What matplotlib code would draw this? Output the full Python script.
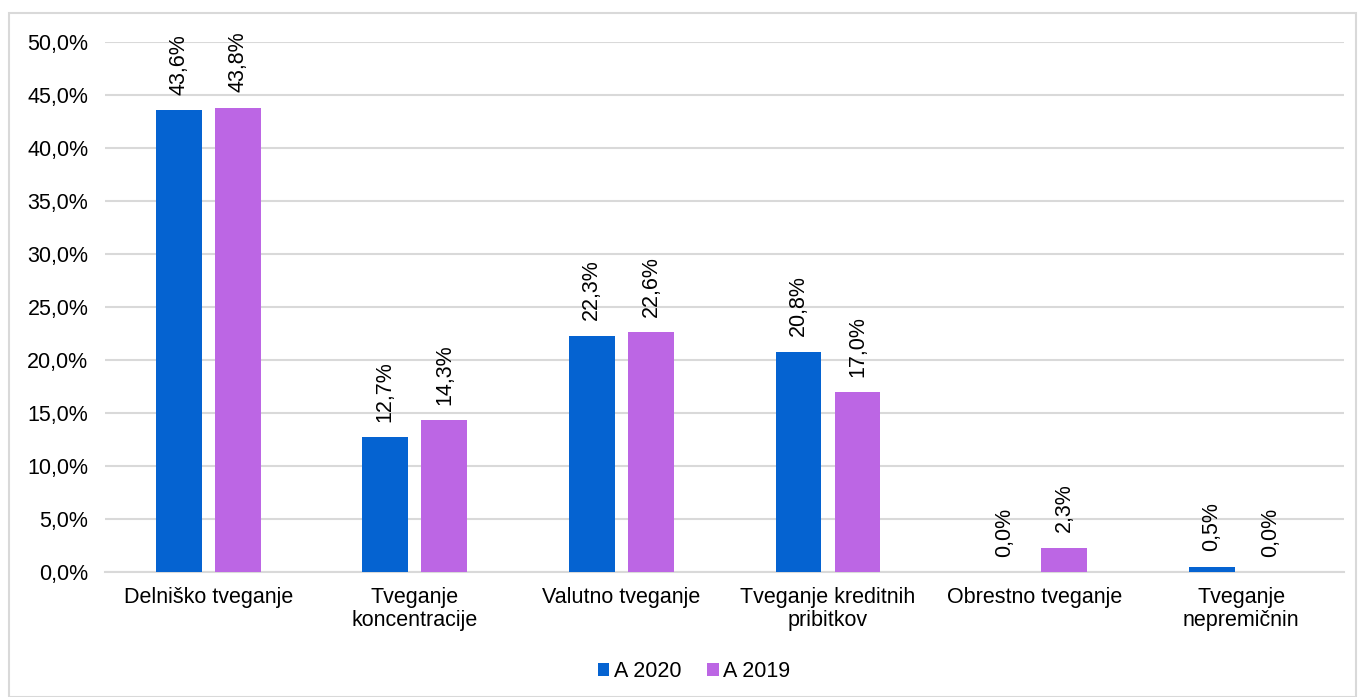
import numpy as np
import matplotlib.pyplot as plt
from matplotlib.patches import Rectangle

categories = ['Delniško tveganje', 'Tveganje\nkoncentracije', 'Valutno tveganje',
              'Tveganje kreditnih\npribitkov', 'Obrestno tveganje', 'Tveganje\nnepremičnin']
a2020 = [43.6, 12.7, 22.3, 20.8, 0.0, 0.5]
a2019 = [43.8, 14.3, 22.6, 17.0, 2.3, 0.0]
series = [('A 2020', a2020, '#0563D1'), ('A 2019', a2019, '#BC66E4')]

plt.rcParams['font.family'] = ['Liberation Sans', 'DejaVu Sans']
plt.rcParams['font.size'] = 15.5

fig = plt.figure(figsize=(13.58, 6.97), dpi=100)
ax = fig.add_axes([0.0773, 0.1793, 0.9127, 0.7604])
fig.patches.append(Rectangle((0.0066, 0.0), 0.9920, 0.9813, transform=fig.transFigure,
                             fill=False, edgecolor='#D9D9D9', linewidth=1.5))

x = np.arange(len(categories))
width = 0.222
offsets = [-0.143, 0.143]
for (name, vals, color), off in zip(series, offsets):
    bars = ax.bar(x + off, vals, width, color=color, label=name, zorder=3)
    for b, v in zip(bars, vals):
        ax.annotate(f'{v:.1f}%'.replace('.', ','), (b.get_x() + b.get_width() / 2, v),
                    xytext=(0, 11), textcoords='offset points', rotation=90,
                    ha='center', va='bottom')

ax.set_xlim(-0.5, len(categories) - 0.5)
ax.set_ylim(0, 50)
ax.set_yticks(np.arange(0, 51, 5))
ax.set_yticklabels([f'{t:.1f}%'.replace('.', ',') for t in np.arange(0, 51, 5)])
ax.set_xticks(x)
ax.set_xticklabels(categories, linespacing=1.1)
ax.grid(axis='y', color='#D9D9D9', linewidth=1.5, zorder=0)
for s in ['top', 'right', 'left']:
    ax.spines[s].set_visible(False)
ax.spines['bottom'].set_color('#D9D9D9')
ax.spines['bottom'].set_linewidth(1.5)
ax.tick_params(axis='both', length=0)
ax.tick_params(axis='y', pad=12)
ax.tick_params(axis='x', pad=11)

ax.legend(loc='center', bbox_to_anchor=(0.511, 0.036), bbox_transform=fig.transFigure,
          ncol=2, frameon=False, handlelength=0.55, handleheight=0.55,
          handletextpad=0.2, columnspacing=1.2)

fig.savefig('out.png', dpi=100)
